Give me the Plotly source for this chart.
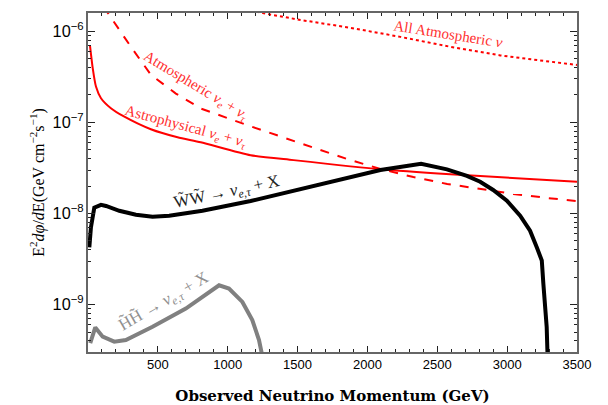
import plotly.graph_objects as go

# ---------------- data ----------------
astro_x = [14, 34, 57, 93, 164, 257, 450, 641, 807, 1164, 1471, 2093, 2593, 3500]
astro_y = [7.0e-7, 3.91e-7, 2.47e-7, 1.84e-7, 1.43e-7, 1.16e-7, 8.39e-8, 6.85e-8, 6.05e-8,
           4.36e-8, 3.85e-8, 3.05e-8, 2.69e-8, 2.23e-8]

atm_x = [110, 143, 307, 450, 629, 807, 1164, 1521, 1857, 2093, 2329, 2571, 2807, 3043, 3286, 3500]
atm_y = [1.86e-6, 1.58e-6, 6.75e-7, 3.33e-7, 2.07e-7, 1.42e-7, 9.04e-8, 5.90e-8, 3.95e-8,
         3.08e-8, 2.51e-8, 2.11e-8, 1.86e-8, 1.64e-8, 1.48e-8, 1.37e-8]

allatm_x = [1164, 1250, 1521, 1879, 2236, 2593, 2950, 3300, 3500]
allatm_y = [1.71e-6, 1.58e-6, 1.33e-6, 1.09e-6, 8.67e-7, 6.75e-7, 5.43e-7, 4.62e-7, 4.26e-7]

ww_x = [9.5, 21, 45, 93, 129, 224, 343, 462, 581, 700, 819, 1164, 1521, 1879, 2093, 2384,
        2569, 2712, 2807, 2900, 2998, 3093, 3164, 3212, 3248, 3259, 3271, 3283, 3292]
ww_y = [4.26e-9, 7.03e-9, 1.16e-8, 1.245e-8, 1.21e-8, 1.07e-8, 9.68e-9, 9.20e-9, 9.44e-9,
        1.0e-8, 1.07e-8, 1.37e-8, 1.85e-8, 2.47e-8, 3.00e-8, 3.51e-8,
        3.05e-8, 2.58e-8, 2.23e-8, 1.81e-8, 1.38e-8, 9.44e-9, 6.47e-9, 4.26e-9, 3.05e-9,
        1.71e-9, 9.44e-10, 5.71e-10, 2.0e-10]

hh_x = [16, 52, 105, 188, 271, 462, 700, 938, 1009, 1105, 1176, 1224, 1243, 1252]
hh_y = [3.77e-10, 5.62e-10, 4.45e-10, 3.92e-10, 4.09e-10, 5.71e-10, 9.06e-10, 1.63e-9,
        1.50e-9, 1.07e-9, 6.76e-10, 4.09e-10, 2.95e-10, 1.58e-10]

x_ticks = [500, 1000, 1500, 2000, 2500, 3000, 3500]

# ---------------- figure ----------------
fig = go.Figure()
fig.add_trace(go.Scatter(x=allatm_x, y=allatm_y, mode="lines",
                         line=dict(color="#ff0000", width=2, dash="dot")))
fig.add_trace(go.Scatter(x=atm_x, y=atm_y, mode="lines",
                         line=dict(color="#ff0000", width=2, dash="dash")))
fig.add_trace(go.Scatter(x=astro_x, y=astro_y, mode="lines",
                         line=dict(color="#ff0000", width=2, shape="spline", smoothing=0.6)))
fig.add_trace(go.Scatter(x=hh_x, y=hh_y, mode="lines",
                         line=dict(color="#808080", width=4)))
fig.add_trace(go.Scatter(x=ww_x, y=ww_y, mode="lines",
                         line=dict(color="#000000", width=4)))

serif = "Liberation Serif"
red_txt = "#ff3030"
ann = [
    dict(x=2579, y=-6.03, text="All Atmospheric <i>ν</i>", textangle=9, color=red_txt, size=15),
    dict(x=770, y=-6.60, text="Atmospheric <i>ν</i><sub><i>e</i></sub> + <i>ν</i><sub><i>τ</i></sub>",
         textangle=31, color=red_txt, size=15),
    dict(x=700, y=-7.05, text="Astrophysical <i>ν</i><sub><i>e</i></sub> + <i>ν</i><sub><i>τ</i></sub>",
         textangle=15, color=red_txt, size=15),
    dict(x=993, y=-7.775, text="W\u0303W\u0303 → <i>ν</i><sub><i>e,τ</i></sub> + X",
         textangle=-12, color="#222222", size=17),
    dict(x=550, y=-8.974, text="H\u0303H\u0303 → <i>ν</i><sub><i>e,τ</i></sub> + X",
         textangle=-30, color="#909090", size=17),
]
for a in ann:
    fig.add_annotation(x=a["x"], y=a["y"], xref="x", yref="y", text=a["text"],
                       textangle=a["textangle"], showarrow=False,
                       font=dict(family=serif, size=a["size"], color=a["color"]))

axis_common = dict(showgrid=False, zeroline=False, showline=True, linecolor="#666666",
                   linewidth=1.5, mirror="allticks", ticks="inside", tickcolor="#222222",
                   tickfont=dict(family="Liberation Sans", size=13, color="#000"))

fig.update_xaxes(range=[0, 3500], tickvals=x_ticks, ticklen=6,
                 minor=dict(ticks="inside", ticklen=3, dtick=100, tick0=0, tickcolor="#222222"),
                 title=dict(text="<b>Observed Neutrino Momentum (GeV)</b>",
                            font=dict(family="DejaVu Serif", size=15, color="#000"),
                            standoff=19),
                 **axis_common)
fig.update_yaxes(type="log", range=[-9.52, -5.80], dtick=1, exponentformat="power",
                 ticklen=7,
                 minor=dict(ticks="inside", ticklen=3, dtick="D1", tickcolor="#222222"),
                 title=dict(text="E<sup>2</sup><i>dφ</i>/<i>d</i>E(GeV cm<sup>−2</sup>s<sup>−1</sup>)",
                            font=dict(family=serif, size=16, color="#000"),
                            standoff=4),
                 **axis_common)

# the page adds an 8px body margin, so the figure is sized to fit the window
fig.update_layout(width=600, height=397, showlegend=False,
                  margin=dict(l=80, r=31, t=3, b=53),
                  plot_bgcolor="white", paper_bgcolor="white")

fig.write_html("out.html")
